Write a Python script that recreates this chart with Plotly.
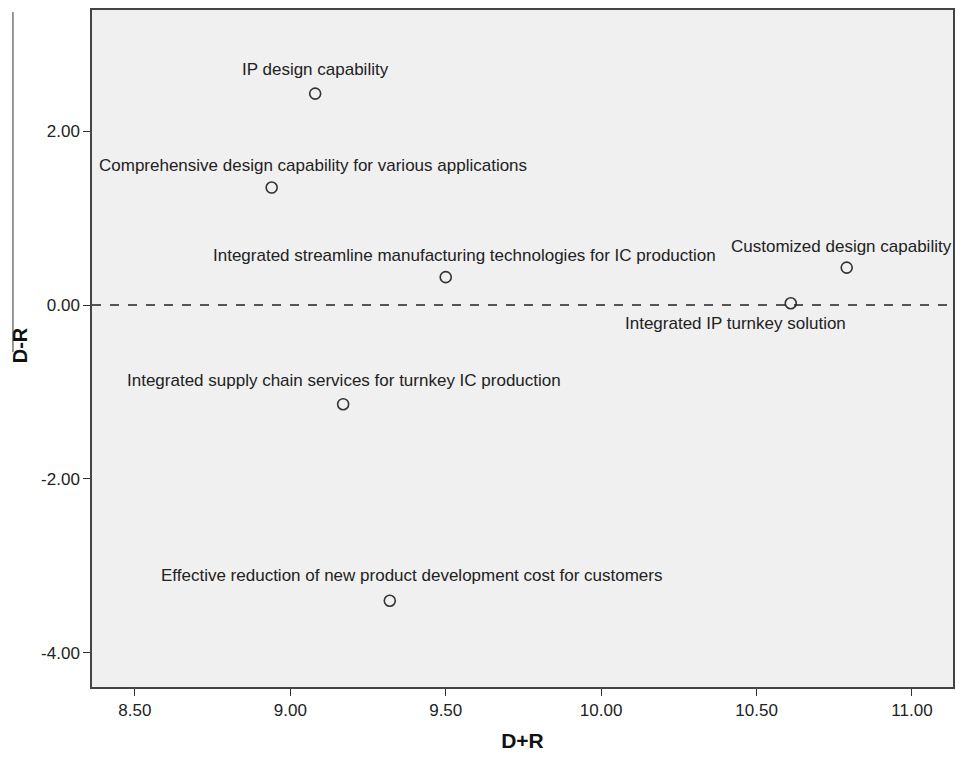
import plotly.graph_objects as go

# Data
labels = [
    "IP design capability",
    "Comprehensive design capability for various applications",
    "Integrated streamline manufacturing technologies for IC production",
    "Customized design capability",
    "Integrated IP turnkey solution",
    "Integrated supply chain services for turnkey IC production",
    "Effective reduction of new product development cost for customers",
]
d_plus_r = [9.08, 8.94, 9.50, 10.79, 10.61, 9.17, 9.32]
d_minus_r = [2.43, 1.35, 0.32, 0.43, 0.02, -1.14, -3.40]

x_ticks = [8.5, 9.0, 9.5, 10.0, 10.5, 11.0]
y_ticks = [-4.0, -2.0, 0.0, 2.0]
x_ticktext = ["8.50", "9.00", "9.50", "10.00", "10.50", "11.00"]
y_ticktext = ["-4.00", "-2.00", "0.00", "2.00"]

# label offsets (pixels) - style only
label_xshift = [0, 41, 19, -5, -55, 1, 22]
label_yshift = [24, 22, 22, 21, -20, 24, 25]

font_family = "Liberation Sans, Arial, sans-serif"

fig = go.Figure()
fig.add_trace(go.Scatter(
    x=d_plus_r, y=d_minus_r, mode="markers",
    marker=dict(symbol="circle-open", size=11, color="#333333",
                line=dict(width=1.6, color="#333333")),
    hoverinfo="skip", showlegend=False,
))

for lab, xv, yv, dx, dy in zip(labels, d_plus_r, d_minus_r, label_xshift, label_yshift):
    fig.add_annotation(x=xv, y=yv, text=lab, showarrow=False,
                       xshift=dx, yshift=dy,
                       font=dict(family=font_family, size=17, color="#222222"))

# dashed zero line
fig.add_shape(type="line", xref="paper", x0=0, x1=1, yref="y", y0=0, y1=0,
              line=dict(color="#222222", width=1.3, dash="dash"))

# stray vertical line on the left edge
fig.add_shape(type="line", xref="paper", yref="paper",
              x0=-0.0918, x1=-0.0918, y0=0.997, y1=0.495,
              line=dict(color="#555555", width=1.2))

fig.add_annotation(xref="paper", yref="paper", x=-0.0834, y=0.505,
                   xanchor="center", yanchor="middle",
                   text="<b>D-R</b>", textangle=-90, showarrow=False,
                   font=dict(family=font_family, size=20, color="#111111"))

fig.update_layout(
    width=956, height=761,
    margin=dict(l=92, r=1, t=10, b=74),
    paper_bgcolor="white",
    plot_bgcolor="#f0f0f0",
    xaxis=dict(
        range=[8.362, 11.132], tickvals=x_ticks, ticktext=x_ticktext,
        ticks="outside", ticklen=7, tickwidth=1.3, tickcolor="#333333",
        showline=True, linecolor="#444444", linewidth=1.5, mirror=True,
        showgrid=False, zeroline=False,
        tickfont=dict(family=font_family, size=17, color="#222222"),
        title=dict(text="<b>D+R</b>", standoff=14,
                   font=dict(family=font_family, size=21, color="#111111")),
    ),
    yaxis=dict(
        range=[-4.391, 3.391], tickvals=y_ticks, ticktext=y_ticktext,
        ticks="outside", ticklen=7, tickwidth=1.3, tickcolor="#333333",
        showline=True, linecolor="#444444", linewidth=1.5, mirror=True,
        showgrid=False, zeroline=False,
        tickfont=dict(family=font_family, size=17, color="#222222"),
    ),
)

fig.write_html(
    "out.html",
    config={"displayModeBar": False},
    post_script="document.body.style.margin='0';document.body.style.overflow='hidden';",
)
